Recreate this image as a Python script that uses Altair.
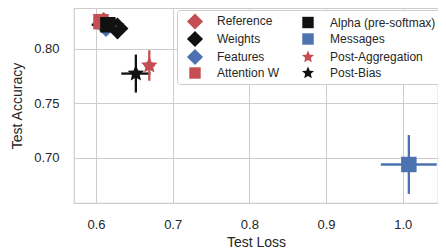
import altair as alt
import pandas as pd

methods = ["Reference", "Weights", "Features", "Attention W",
           "Alpha (pre-softmax)", "Messages", "Post-Aggregation", "Post-Bias"]
test_loss = [0.610, 0.628, 0.613, 0.6065, 0.6155, 1.008, 0.6695, 0.652]
test_acc = [0.8235, 0.8183, 0.8205, 0.8246, 0.8218, 0.6936, 0.7844, 0.7770]
loss_err = [0.004, 0.005, 0.004, 0.005, 0.021, 0.0365, 0.007, 0.019]
acc_err = [0.003, 0.004, 0.003, 0.003, 0.003, 0.027, 0.014, 0.0174]

RED, BLUE, BLACK = "#C44E52", "#4C72B0", "#111111"
DIAMOND = "M0,-1.414L1.414,0L0,1.414L-1.414,0Z"
STAR = ("M0,-1.12L0.31,-0.41L1.07,-0.35L0.5,0.15L0.66,0.91L0,0.52"
        "L-0.66,0.91L-0.5,0.15L-1.07,-0.35L-0.31,-0.41Z")
colors = [RED, BLACK, BLUE, RED, BLACK, BLUE, RED, BLACK]
shapes = [DIAMOND, DIAMOND, DIAMOND, "square", "square", "square", STAR, STAR]

df = pd.DataFrame({"method": methods, "loss": test_loss, "acc": test_acc,
                   "lerr": loss_err, "aerr": acc_err,
                   "idx": list(range(len(methods)))})

xs = alt.Scale(domain=[0.57132, 1.04602], nice=False, zero=False)
ys = alt.Scale(domain=[0.65826, 0.83716], nice=False, zero=False)
cs = alt.Scale(domain=methods, range=colors)
ss = alt.Scale(domain=methods, range=shapes)

xax = alt.Axis(values=[0.6, 0.7, 0.8, 0.9, 1.0], format=".1f", title="Test Loss")
yax = alt.Axis(values=[0.70, 0.75, 0.80], format=".2f", title="Test Accuracy")

base = alt.Chart(df).transform_calculate(
    l0="datum.loss - datum.lerr", l1="datum.loss + datum.lerr",
    a0="datum.acc - datum.aerr", a1="datum.acc + datum.aerr")

xerr = base.mark_rule(strokeWidth=2.3).encode(
    x=alt.X("l0:Q", scale=xs, axis=xax), x2="l1:Q",
    y=alt.Y("acc:Q", scale=ys, axis=yax),
    color=alt.Color("method:N", scale=cs, legend=None))
yerr = base.mark_rule(strokeWidth=2.3).encode(
    x=alt.X("loss:Q", scale=xs, axis=xax),
    y=alt.Y("a0:Q", scale=ys, axis=yax), y2="a1:Q",
    color=alt.Color("method:N", scale=cs, legend=None))
leg = alt.Legend(title=None, orient="none", legendX=103, legendY=2, columns=2)
pts = base.mark_point(filled=True, opacity=1, size=240, strokeWidth=0).encode(
    x=alt.X("loss:Q", scale=xs, axis=xax),
    y=alt.Y("acc:Q", scale=ys, axis=yax),
    color=alt.Color("method:N", scale=cs, legend=leg),
    shape=alt.Shape("method:N", scale=ss, legend=leg),
    order="idx:Q")

chart = alt.layer(xerr, yerr, pts).resolve_legend(
    color="independent", shape="independent"
).properties(
    width=364, height=195,
    autosize=alt.AutoSizeParams(type="none"),
    padding={"left": 66, "top": 0, "right": 0, "bottom": 50},
).configure_view(stroke="#cccccc", strokeWidth=1.2).configure_axis(
    grid=True, gridColor="#cccccc", gridWidth=1, domain=False, ticks=False,
    labelFont="Liberation Sans", titleFont="Liberation Sans",
    labelFontSize=13, titleFontSize=14, labelColor="#262626",
    titleColor="#262626", titleFontWeight="normal",
).configure_axisX(labelPadding=15, titlePadding=4).configure_axisY(
    labelPadding=15, titlePadding=9).configure_legend(
    labelFont="Liberation Sans", labelFontSize=12, labelColor="#262626",
    fillColor="white", strokeColor="#cccccc", cornerRadius=3, padding=5,
    symbolSize=130, symbolStrokeWidth=0, symbolOffset=7, labelOffset=16,
    rowPadding=0, columnPadding=15,
)

chart.save("out.html", embed_options={"renderer": "svg", "actions": False})
